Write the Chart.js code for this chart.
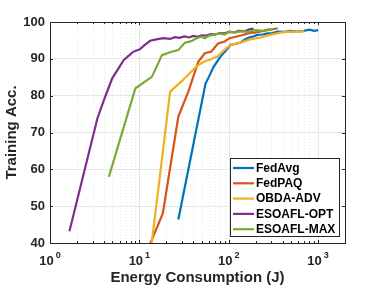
<!DOCTYPE html>
<html>
<head>
<meta charset="utf-8">
<script src="https://cdn.jsdelivr.net/npm/chart.js@4"></script>
<style>
  html, body { margin: 0; padding: 0; background: #fff; }
  #wrap { width: 382px; height: 287px; }
</style>
</head>
<body>
<div id="wrap"><canvas id="myChart"></canvas></div>
<script>
// values
const labels = ["FedAvg", "FedPAQ", "OBDA-ADV", "ESOAFL-OPT", "ESOAFL-MAX"];
const colors = ["#0072BD", "#D95319", "#EDB120", "#7E2F8E", "#77AC30"];

const fedAvgX = [27.3, 55, 60, 68, 81, 95, 105, 120, 135, 150, 168, 190, 208, 240, 270, 310, 350, 420, 490, 580, 685, 800, 900, 1000];
const fedAvgY = [46.4, 83.3, 85.1, 87.9, 90.6, 92.5, 93.8, 94.1, 94.4, 95.2, 95.8, 96.1, 96.5, 96.6, 96.9, 97.0, 97.4, 97.3, 97.6, 97.4, 97.6, 97.9, 97.6, 97.8];

const fedPaqX = [12.8, 18.3, 27.3, 35.3, 45.6, 54, 64, 76, 90, 102, 120, 140, 165, 200, 240, 290, 353];
const fedPaqY = [39, 48.0, 74.3, 81.1, 89.2, 91.5, 92.0, 94.2, 94.7, 95.6, 96.0, 96.4, 96.9, 97.2, 97.5, 97.9, 98.3];

const obdaX = [13.6, 22.1, 30, 38, 44, 49, 56, 63, 75, 89, 105, 135, 175, 226, 292, 377, 490, 600, 700];
const obdaY = [39, 81.1, 84.0, 86.5, 88.0, 88.8, 89.5, 89.9, 90.6, 92.4, 93.8, 94.4, 95.3, 95.8, 96.5, 97.1, 97.4, 97.3, 97.5];

const optX = [1.65, 3.39, 4.0, 4.97, 6.7, 8.5, 10.1, 11.5, 13.2, 15.5, 18.6, 22, 25, 28, 32, 36, 40, 45, 50, 56, 63, 70, 80, 90, 100, 115, 130, 150, 170, 190];
const optY = [43.2, 73.8, 78.7, 84.7, 89.7, 91.9, 92.6, 93.8, 94.9, 95.3, 95.6, 95.4, 95.9, 95.7, 96.1, 95.8, 96.2, 96.0, 96.4, 96.3, 96.7, 96.6, 97.0, 96.9, 97.3, 97.2, 97.6, 97.5, 98.0, 98.2];

const maxX = [4.56, 9.03, 13.8, 17.9, 22, 27.3, 32.4, 38, 43.8, 49.6, 54, 60, 67, 79, 90, 102, 120, 140, 165, 200, 240, 280, 316];
const maxY = [58.0, 82.0, 85.1, 91.0, 91.8, 92.4, 94.4, 94.8, 95.6, 96.0, 95.6, 96.3, 96.5, 96.9, 96.6, 97.4, 97.2, 97.5, 97.3, 97.8, 97.6, 98.0, 98.0];

const seriesX = [fedAvgX, fedPaqX, obdaX, optX, maxX];
const seriesY = [fedAvgY, fedPaqY, obdaY, optY, maxY];

const xMin = 1, xMax = 2000;
const yMin = 40, yMax = 100;
const decades = [0, 1, 2, 3];

const FONT = "'Liberation Sans', Arial, Helvetica, sans-serif";
const AXIS = "#262626";

// grid, box, ticks, superscript labels and legend, MATLAB style
const matlabAxes = {
  id: "matlabAxes",
  beforeDatasetsDraw(chart) {
    const { ctx, chartArea: a, scales: { x, y } } = chart;
    ctx.save();
    ctx.lineWidth = 1;
    for (let k = 0; k <= 3; k++) {
      for (let m = 1; m <= 9; m++) {
        const v = m * Math.pow(10, k);
        if (v <= xMin || v >= xMax) continue;
        const px = Math.round(x.getPixelForValue(v)) + 0.5;
        ctx.strokeStyle = m === 1 ? "#e3e3e3" : "#e6e6e6";
        ctx.setLineDash(m === 1 ? [] : [1, 2]);
        ctx.beginPath();
        ctx.moveTo(px, a.top);
        ctx.lineTo(px, a.bottom);
        ctx.stroke();
      }
    }
    ctx.restore();
  },
  afterDatasetsDraw(chart) {
    const { ctx, chartArea: a, scales: { x, y } } = chart;
    ctx.save();
    ctx.strokeStyle = AXIS;
    ctx.lineWidth = 1;
    ctx.setLineDash([]);
    ctx.strokeRect(Math.round(a.left) + 0.5, Math.round(a.top) + 0.5,
      Math.round(a.right - a.left), Math.round(a.bottom - a.top));

    // x ticks (major + minor), top and bottom
    for (let k = 0; k <= 3; k++) {
      for (let m = 1; m <= 9; m++) {
        const v = m * Math.pow(10, k);
        if (v <= xMin || v >= xMax) continue;
        const px = Math.round(x.getPixelForValue(v)) + 0.5;
        const len = m === 1 ? 3 : 2;
        ctx.beginPath();
        ctx.moveTo(px, a.bottom); ctx.lineTo(px, a.bottom - len);
        ctx.moveTo(px, a.top); ctx.lineTo(px, a.top + len);
        ctx.stroke();
      }
    }
    // y ticks
    for (let v = yMin + 10; v < yMax; v += 10) {
      const py = Math.round(y.getPixelForValue(v)) + 0.5;
      ctx.beginPath();
      ctx.moveTo(a.left, py); ctx.lineTo(a.left + 3, py);
      ctx.moveTo(a.right, py); ctx.lineTo(a.right - 3, py);
      ctx.stroke();
    }

    // x tick labels 10^k
    ctx.fillStyle = AXIS;
    ctx.textBaseline = "alphabetic";
    decades.forEach(k => {
      const px = x.getPixelForValue(Math.pow(10, k));
      ctx.font = "bold 13px " + FONT;
      const wBase = ctx.measureText("10").width;
      ctx.font = "bold 9px " + FONT;
      const wExp = ctx.measureText(String(k)).width;
      const left = px - (wBase + wExp + 2) / 2;
      ctx.font = "bold 13px " + FONT;
      ctx.textAlign = "left";
      ctx.fillText("10", left, a.bottom + 22);
      ctx.font = "bold 9px " + FONT;
      ctx.fillText(String(k), left + wBase + 2, a.bottom + 15);
    });

    // legend box, bottom right inside the axes
    const lx = 230, ly = 158, lw = 109, lh = 78;
    ctx.fillStyle = "#fff";
    ctx.fillRect(lx, ly, lw, lh);
    ctx.strokeStyle = AXIS;
    ctx.strokeRect(lx + 0.5, ly + 0.5, lw, lh);
    ctx.font = "bold 12px " + FONT;
    ctx.textBaseline = "middle";
    ctx.textAlign = "left";
    chart.data.datasets.forEach((ds, i) => {
      const cy = ly + 10 + i * 15.3;
      ctx.strokeStyle = ds.borderColor;
      ctx.lineWidth = 2.2;
      ctx.beginPath();
      ctx.moveTo(lx + 3, cy); ctx.lineTo(lx + 24, cy);
      ctx.stroke();
      ctx.fillStyle = "#000";
      ctx.fillText(ds.label, lx + 26, cy + 0.5);
    });
    ctx.restore();
  }
};

const datasets = labels.map((name, i) => ({
  label: name,
  data: seriesX[i].map((v, j) => ({ x: v, y: seriesY[i][j] })),
  borderColor: colors[i],
  backgroundColor: colors[i],
  borderWidth: 2.2,
  pointRadius: 0,
  tension: 0,
  fill: false,
  order: labels.length - i
}));

const ctx = document.getElementById("myChart").getContext("2d");
new Chart(ctx, {
  type: "line",
  data: { datasets },
  options: {
    responsive: true,
    maintainAspectRatio: false,
    animation: false,
    layout: { padding: { left: 0, top: 22, right: 37, bottom: 0 } },
    plugins: { legend: { display: false }, tooltip: { enabled: false } },
    scales: {
      x: {
        type: "logarithmic",
        min: xMin,
        max: xMax,
        grid: { display: false },
        border: { display: false },
        ticks: { display: false },
        title: {
          display: true,
          text: "Energy Consumption (J)",
          color: AXIS,
          font: { family: FONT, size: 15, weight: "bold" },
          padding: { top: 0, bottom: 0 }
        },
        afterFit: (s) => { s.height = 44; }
      },
      y: {
        min: yMin,
        max: yMax,
        grid: { color: "#e6e6e6", drawTicks: false },
        border: { display: false },
        ticks: {
          stepSize: 10,
          padding: 5,
          color: AXIS,
          font: { family: FONT, size: 13, weight: "bold" }
        },
        title: {
          display: true,
          text: "Training Acc.",
          color: AXIS,
          font: { family: FONT, size: 15, weight: "bold" },
          padding: { top: 3, bottom: 0 }
        },
        afterFit: (s) => { s.width = 50; }
      }
    }
  },
  plugins: [matlabAxes]
});
</script>
</body>
</html>
